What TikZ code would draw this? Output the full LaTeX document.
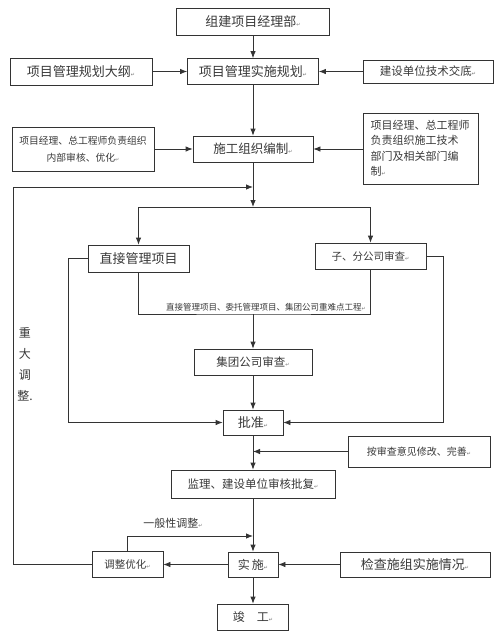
\documentclass[tikz,border=0pt]{standalone}
\usepackage{fontspec}
\newfontfamily\cjk{Noto Sans CJK SC}
\newfontfamily\markfont{DejaVu Sans}
\usetikzlibrary{arrows.meta}
\newcommand{\ret}{{\markfont\fontsize{5pt}{5pt}\selectfont\color{black!55}↵}}
\tikzstyle{box} = [rectangle, draw=black!80, line width=0.8pt, inner sep=0pt, text centered, text=black!78]
\tikzstyle{line} = [draw=black!80, line width=0.8pt]
\tikzstyle{arrow} = [line, -{Latex[length=7pt,width=5.5pt]}]
\tikzset{fsize/.style={font=\cjk\fontsize{#1pt}{#1pt}\selectfont}}

\begin{document}
\begin{tikzpicture}[x=1pt, y=-1pt]
    \useasboundingbox (0,0) rectangle (500,635);

    % Nodes
    \node (org) [box, fsize=13, minimum width=153pt, minimum height=27pt] at (253,21.5) {组建项目经理部\ret};
    \node (outline) [box, fsize=13, minimum width=142pt, minimum height=27pt] at (81,71.5) {项目管理规划大纲\ret};
    \node (plan) [box, fsize=13, minimum width=131pt, minimum height=26pt] at (253,71.5) {项目管理实施规划\ret};
    \node (handover) [box, fsize=11.5, minimum width=130pt, minimum height=23pt] at (428,71.5) {建设单位技术交底\ret};
    \node (review) [box, align=center, font=\cjk\fontsize{9.8pt}{17pt}\selectfont, minimum width=142pt, minimum height=44pt] at (83,149) {项目经理、总工程师负责组织\\内部审核、优化\ret};
    \node (compile) [box, fsize=12.5, minimum width=120pt, minimum height=26pt] at (253,149) {施工组织编制\ret};
    \node (writer) [box, align=left, text width=100pt, font=\cjk\fontsize{11pt}{15.5pt}\selectfont, minimum width=115pt, minimum height=71pt] at (420.5,148.5) {项目经理、总工程师\\负责组织施工技术\\部门及相关部门编\\制\ret};

    \node (direct) [box, fsize=13, minimum width=101pt, minimum height=27pt] at (138.5,258.5) {直接管理项目};
    \node (branch) [box, fsize=10.5, minimum width=111pt, minimum height=26pt] at (370.5,256) {子、分公司审查\ret};
    \node (group) [box, fsize=11.5, minimum width=118pt, minimum height=26pt] at (253,362) {集团公司审查\ret};
    \node (approve) [box, fsize=13, minimum width=60pt, minimum height=25pt] at (253,422.5) {批准\ret};
    \node (revise) [box, fsize=10, minimum width=142pt, minimum height=31pt] at (419,451.5) {按审查意见修改、完善\ret};
    \node (reply) [box, fsize=11.5, minimum width=164pt, minimum height=28pt] at (253,484) {监理、建设单位审核批复\ret};
    \node (impl) [box, fsize=12, minimum width=50pt, minimum height=25pt] at (253,564.5) {实\,施\ret};
    \node (optimize) [box, fsize=10.5, minimum width=71pt, minimum height=26pt] at (127.5,564.5) {调整优化\ret};
    \node (check) [box, fsize=13, minimum width=150pt, minimum height=25pt] at (415,564.5) {检查施组实施情况\ret};
    \node (done) [box, fsize=12, minimum width=71pt, minimum height=26pt] at (253,617) {竣\quad 工\ret};

    % Labels
    \node (scopelabel) [fsize=8.5, inner sep=0pt, text=black!78] at (266,307.5) {直接管理项目、委托管理项目、集团公司重难点工程\ret};
    \node (minorlabel) [fsize=11, inner sep=0pt, text=black!78] at (173,523) {一般性调整\ret};
    \node (majorlabel) [align=center, font=\cjk\fontsize{12pt}{21pt}\selectfont, inner sep=0pt, text=black!78] at (25,364) {重\\大\\调\\整.};

    % Points on the lines
    \coordinate (split) at (253,207);
    \coordinate (merge) at (253,314);
    \coordinate (loopin) at (253,187);
    \coordinate (loopcorner) at (13,187);
    \coordinate (minorin) at (253,536);

    % Arrows, upper part
    \draw [arrow] (org) -- (plan);
    \draw [arrow] (outline) -- (plan);
    \draw [arrow] (handover) -- (plan);
    \draw [arrow] (plan) -- (compile);
    \draw [arrow] (review) -- (compile);
    \draw [arrow] (writer.west |- compile) -- (compile);
    \draw [arrow] (compile) -- (split);
    \draw [arrow] (split) -| (direct);
    \draw [arrow] (split) -| (branch);

    % Arrows, review
    \draw [line] (direct) |- (merge) -| (branch);
    \draw [arrow] (merge) -- (group);
    \draw [arrow] (group) -- (approve);
    \draw [arrow] (direct.west) -- ++(-19,0) |- (approve.west);
    \draw [arrow] (branch.east) -- ++(17,0) |- (approve.east);

    % Arrows, lower part
    \draw [arrow] (approve) -- (reply);
    \draw [arrow] (revise.west) -- (revise.west -| approve.south);
    \draw [arrow] (reply) -- (impl);
    \draw [arrow] (optimize.north) |- (minorin);
    \draw [arrow] (impl) -- (optimize);
    \draw [arrow] (check) -- (impl);
    \draw [arrow] (impl) -- (done);
    \draw [arrow] (optimize.west) -| (loopcorner) -- (loopin);

\end{tikzpicture}
\end{document}
